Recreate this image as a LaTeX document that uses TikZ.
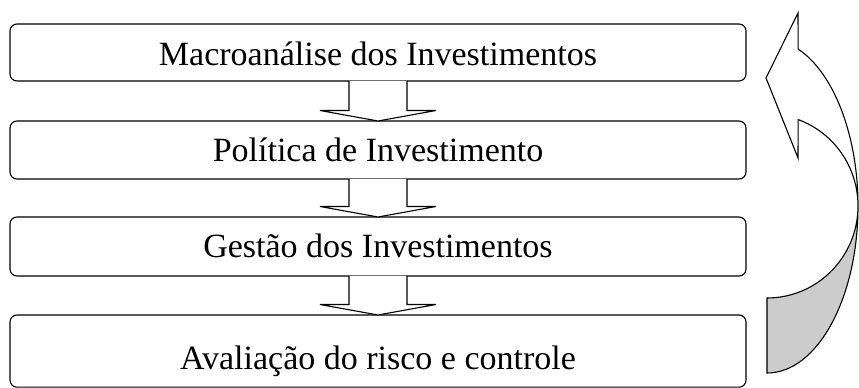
\documentclass[tikz,border=0pt]{standalone}
\usepackage{fontspec}
\setmainfont{Liberation Serif}
\usetikzlibrary{calc}
\definecolor{backgray}{RGB}{204,204,204}
\begin{document}
\begin{tikzpicture}[x=1pt,y=1pt,
  box/.style={draw, line width=1.1pt, rounded corners=7pt, fill=white,
              minimum width=736pt, inner sep=0pt, outer sep=0pt},
  lbl/.style={font=\fontsize{34}{40}\selectfont, anchor=base, inner sep=0pt},
  barrow/.style={draw, fill=white, line width=1.1pt, line join=miter},
  curvearrow/.style={draw, line width=1.1pt, line join=miter}]
\useasboundingbox (0,0) rectangle (859,388);
% boxes
\node[box, minimum height=57pt] (b1) at (378,335.5) {};
\node[box, minimum height=58pt] (b2) at (378,238) {};
\node[box, minimum height=59pt] (b3) at (378,141.5) {};
\node[box, minimum height=72.2pt] (b4) at (378,36.9) {};
% labels
\node[lbl] (t1) at (378,322) {Macroanálise dos Investimentos};
\node[lbl] (t2) at (378,226) {Política de Investimento};
\node[lbl] (t3) at (378,130) {Gestão dos Investimentos};
\node[lbl] (t4) at (378,18) {Avaliação do risco e controle};
% block arrows between boxes
\foreach \a/\b in {b1/b2,b2/b3,b3/b4}{
  \draw[barrow] ($(\a.south)+(-29,0)$) -- ($(\b.north)+(-29,10.5)$)
     -- ($(\b.north)+(-58,10.5)$) -- (\b.north) -- ($(\b.north)+(58,10.5)$)
     -- ($(\b.north)+(29,10.5)$) -- ($(\a.south)+(29,0)$);
}
% curved return arrow
\coordinate (cc) at (767,182);
\coordinate (rim) at (858,182);
\coordinate (tip) at (766,310);
\coordinate (hup) at (798,375);
\coordinate (hlo) at (798,230);
\draw[curvearrow, fill=backgray] (rim)
   arc[start angle=0, end angle=-90, x radius=91, y radius=92]
   -- ($(cc)+(0,-167)$)
   arc[start angle=-90, end angle=0, x radius=91, y radius=167] -- cycle;
\draw[curvearrow, fill=white] (tip) -- (hup)
   -- ($(cc)+({91*cos(70)},{167*sin(70)})$)
   arc[start angle=70, end angle=0, x radius=91, y radius=167]
   arc[start angle=0, end angle=70, x radius=91, y radius=92]
   -- (hlo) -- cycle;
\end{tikzpicture}
\end{document}
